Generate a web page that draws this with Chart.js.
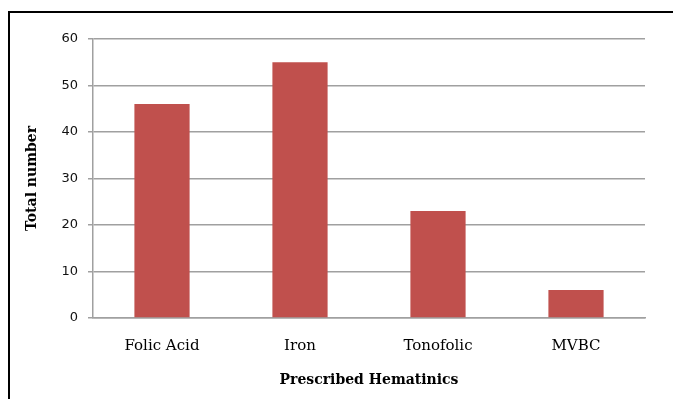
<!DOCTYPE html>
<html>
<head>
<meta charset="utf-8">
<script src="https://cdn.jsdelivr.net/npm/chart.js@4"></script>
<style>
  html, body { margin: 0; padding: 0; background: #fff; overflow: hidden; }
  #frame {
    position: absolute; left: 8px; top: 11px; width: 700px; height: 420px;
    border-left: 2px solid #000; border-top: 2px solid #000;
    box-sizing: border-box;
  }
  #wrap { position: absolute; left: 0; top: 0; width: 673px; height: 399px; }
</style>
</head>
<body>
<div id="frame"></div>
<div id="wrap"><canvas id="c" width="673" height="399"></canvas></div>
<script>
// Prescribed hematinics and how many times each was prescribed
const categories = ['Folic Acid', 'Iron', 'Tonofolic', 'MVBC'];
const totals = [46, 55, 23, 6];
const yTicks = [0, 10, 20, 30, 40, 50, 60];

const gridGray = '#a0a0a0';
const serif = '"DejaVu Serif", "Liberation Serif", serif';

new Chart(document.getElementById('c'), {
  type: 'bar',
  data: {
    labels: categories,
    datasets: [{
      data: totals,
      backgroundColor: '#C0504D',
      borderWidth: 0,
      categoryPercentage: 1.0,
      barPercentage: 0.4
    }]
  },
  options: {
    responsive: false,
    animation: false,
    events: [],
    layout: { padding: { left: 0, right: 28, top: 39, bottom: 0 } },
    plugins: { legend: { display: false }, tooltip: { enabled: false } },
    scales: {
      x: {
        afterFit: s => { s.height = 81; },
        grid: { display: false, drawTicks: false },
        border: { display: true, color: gridGray, width: 1.5 },
        ticks: {
          padding: 19,
          color: '#000',
          font: { family: serif, size: 15 }
        },
        title: {
          display: true,
          text: 'Prescribed Hematinics',
          color: '#000',
          padding: { top: 0, bottom: 10 },
          font: { family: serif, size: 14, weight: 'bold' }
        }
      },
      y: {
        min: 0, max: 60,
        afterFit: s => { s.width = 93; },
        afterBuildTicks: s => { s.ticks = yTicks.map(v => ({ value: v })); },
        grid: { color: gridGray, lineWidth: 1.5, tickLength: 5, drawTicks: true },
        border: { display: true, color: gridGray, width: 1.5 },
        ticks: {
          padding: 10,
          color: '#111',
          font: { family: '"DejaVu Sans", Verdana, sans-serif', size: 13 }
        },
        title: {
          display: true,
          text: 'Total number',
          color: '#000',
          padding: { top: 24, bottom: 0 },
          font: { family: serif, size: 14, weight: 'bold' }
        }
      }
    }
  }
});
</script>
</body>
</html>
